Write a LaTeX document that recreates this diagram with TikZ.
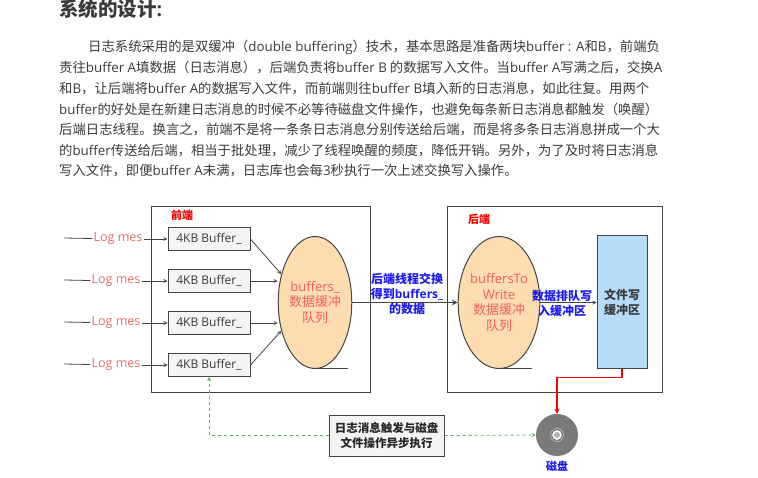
\documentclass[tikz,border=0pt]{standalone}
\usepackage{fontspec}
\setmainfont{Noto Sans CJK SC}
\newfontfamily\latinfont{Open Sans}
\newcommand{\lat}[1]{{\latinfont #1}}
\usetikzlibrary{arrows}
\definecolor{bodygray}{HTML}{3A3A3A}
\definecolor{framegray}{HTML}{444444}
\definecolor{logred}{HTML}{E96F6F}
\definecolor{queuered}{HTML}{F25C5C}
\definecolor{queuefill}{HTML}{FDDDB0}
\definecolor{filefill}{HTML}{B5DCF8}
\definecolor{boxfill}{HTML}{F4F4F4}
\definecolor{linkgreen}{HTML}{55B560}
\definecolor{labelblue}{HTML}{1A1AF0}
\tikzstyle{bodyline} = [
    anchor=base west,
    inner sep=0pt,
    text=bodygray,
    font=\fontsize{13.35}{16}\selectfont
]
\tikzstyle{frame} = [
    rectangle,
    anchor=north west,
    inner sep=0pt,
    line width=1pt,
    draw=framegray
]
\tikzstyle{bufferbox} = [
    rectangle,
    minimum width=82pt,
    minimum height=23pt,
    inner sep=0pt,
    line width=1pt,
    draw=framegray,
    fill=boxfill,
    text=bodygray,
    font=\latinfont\fontsize{12}{14}\selectfont
]
\tikzstyle{logtext} = [
    inner sep=1pt,
    text=logred,
    font=\latinfont\fontsize{12.5}{14}\selectfont
]
\tikzstyle{queue} = [
    ellipse,
    minimum width=64pt,
    minimum height=132pt,
    inner sep=0pt,
    line width=1pt,
    draw=framegray,
    fill=queuefill,
    align=center,
    text=queuered,
    font=\fontsize{13}{15.5}\selectfont
]
\tikzstyle{bluetext} = [
    inner sep=0pt,
    align=center,
    text=labelblue,
    font=\bfseries\fontsize{12}{15}\selectfont
]
\tikzstyle{redtext} = [
    inner sep=0pt,
    text=red,
    font=\bfseries\fontsize{11}{13}\selectfont
]
\tikzstyle{arrow} = [line width=0.8pt,draw=framegray,->,>=stealth]
\tikzstyle{greenlink} = [line width=0.8pt,draw=linkgreen,dashed,->,>=stealth]
\usetikzlibrary{shapes.geometric}

\begin{document}
\begin{tikzpicture}[x=1pt,y=-1pt,node distance=42pt]

\useasboundingbox (0,0) rectangle (758,478);

\node (title) [anchor=base west,inner sep=0pt,text=bodygray,font=\bfseries\fontsize{19.5}{22}\selectfont] at (59,17) {系统的设计\lat{:}};

\node (line1) [bodyline] at (88,52) {日志系统采用的是双缓冲（\lat{double buffering}）技术，基本思路是准备两块\lat{buffer : A}和\lat{B}，前端负};
\node (line2) [bodyline] at (59,73) {责往\lat{buffer A}填数据（日志消息），后端负责将\lat{buffer B} 的数据写入文件。当\lat{buffer A}写满之后，交换\lat{A}};
\node (line3) [bodyline] at (59,93.5) {和\lat{B}，让后端将\lat{buffer A}的数据写入文件，而前端则往\lat{buffer B}填入新的日志消息，如此往复。用两个};
\node (line4) [bodyline] at (59,114.5) {\lat{buffer}的好处是在新建日志消息的时候不必等待磁盘文件操作，也避免每条新日志消息都触发（唤醒）};
\node (line5) [bodyline] at (59,135) {后端日志线程。换言之，前端不是将一条条日志消息分别传送给后端，而是将多条日志消息拼成一个大};
\node (line6) [bodyline] at (59,155.5) {的\lat{buffer}传送给后端，相当于批处理，减少了线程唤醒的频度，降低开销。另外，为了及时将日志消息};
\node (line7) [bodyline] at (59,176) {写入文件，即便\lat{buffer A}未满，日志库也会每\lat{3}秒执行一次上述交换写入操作。};

\node (front) [frame,minimum width=219pt,minimum height=186pt] at (151,206) {};
\node (back) [frame,minimum width=215pt,minimum height=186pt] at (447,206) {};

\node (frontlabel) [redtext] at (182,215) {前端};
\node (backlabel) [redtext] at (479,219) {后端};

\node (buffer1) [bufferbox] at (209,239) {4KB Buffer\_};
\node (buffer2) [bufferbox] at (209,281) {4KB Buffer\_};
\node (buffer3) [bufferbox] at (209,323) {4KB Buffer\_};
\node (buffer4) [bufferbox] at (209,365) {4KB Buffer\_};

\node (log1) [logtext] at (118,239) {Log mes};
\node (log2) [logtext] at (116,281) {Log mes};
\node (log3) [logtext] at (116,323) {Log mes};
\node (log4) [logtext] at (116,365) {Log mes};

\coordinate (in1) at (64,238);
\coordinate (in2) at (64,280);
\coordinate (in3) at (64,322);
\coordinate (in4) at (64,364);

\node (buffers) [queue] at (315,302.5) {\lat{buffers\_}\\数据缓冲\\队列};
\node (towrite) [queue] at (499,302.5) {\lat{buffersTo}\\\lat{Write}\\数据缓冲\\队列};

\node (filebuffer) [rectangle,minimum width=50pt,minimum height=133pt,inner sep=0pt,line width=1pt,draw=framegray,fill=filefill,align=center,text=bodygray,font=\bfseries\fontsize{12}{15}\selectfont] at (622,302.5) {文件写\\缓冲区};

\node (disk) [circle,minimum size=42pt,inner sep=0pt,fill=black!52] at (557,435) {};
\node (diskring) [circle,minimum size=13pt,inner sep=0pt,draw=white!80!black,line width=0.5pt] at (disk.center) {};
\node (diskhole) [circle,minimum size=8pt,inner sep=0pt,draw=white,line width=1.5pt,fill=black!30] at (disk.center) {};
\node (disklabel) [bluetext,font=\bfseries\fontsize{11}{13}\selectfont] at (557,466) {磁盘};

\node (async) [rectangle,minimum width=115pt,minimum height=41pt,inner sep=0pt,line width=1pt,draw=framegray,fill=boxfill,align=center,text=black!85,font=\bfseries\fontsize{11.5}{15.5}\selectfont] at (386.5,435.5) {日志消息触发与磁盘\\文件操作异步执行};

\node (swaplabel) [bluetext,fill=white,fill opacity=0,text opacity=1] at (407,294) {后端线程交换\\得到\lat{buffers\_}\\的数据};
\node (queuelabel) [bluetext] at (562,303.5) {数据排队写\\入缓冲区};

\draw [framegray,line width=1pt] (buffers.south) -- ++(33,0);
\draw [framegray,line width=1pt] (towrite.south) -- ++(33,0);

\draw [framegray,line width=0.8pt] (in1) -- (log1);
\draw [framegray,line width=0.8pt] (in2) -- (log2);
\draw [framegray,line width=0.8pt] (in3) -- (log3);
\draw [framegray,line width=0.8pt] (in4) -- (log4);

\draw [arrow] (log1.east |- buffer1) -- (buffer1);
\draw [arrow] (log2.east |- buffer2) -- (buffer2);
\draw [arrow] (log3.east |- buffer3) -- (buffer3);
\draw [arrow] (log4.east |- buffer4) -- (buffer4);

\draw [arrow] (buffer1.east) -- (buffers.140);
\draw [arrow] (buffer2.east) -- (buffers.west |- buffer2);
\draw [arrow] (buffer3.east) -- (buffers.west |- buffer3);
\draw [arrow] (buffer4.east) -- (buffers.220);

\draw [arrow,line width=1.6pt] (buffers) -- (towrite);
\draw [arrow] (towrite) -- (filebuffer);

\draw [->,>=stealth,red,line width=1.2pt] (filebuffer.south) -- ++(0,8) -| (disk.north);
\draw [greenlink] (async.east) -- (disk.west);
\draw [greenlink] (async.west) -| (buffer4.south);

\end{tikzpicture}
\end{document}
